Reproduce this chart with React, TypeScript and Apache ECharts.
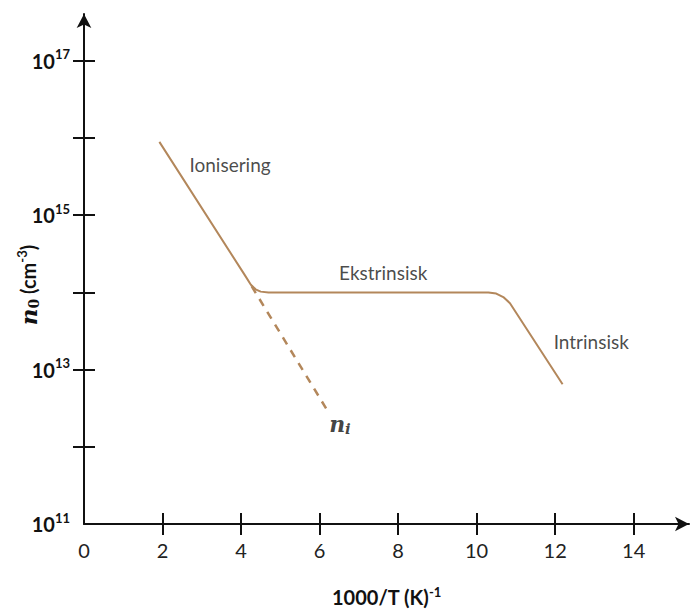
import React, { useEffect, useRef } from "react";
import * as echarts from "echarts";

// x = 1000/T (K^-1), y = log10(n0 / cm^-3)
const mainCurveX = [1.92, 4.1, 4.25, 4.37, 4.5, 4.7, 10.3, 10.5, 10.68, 10.85, 12.19];
const mainCurveY = [15.95, 14.22, 14.1, 14.04, 14.01, 14.0, 14.0, 13.985, 13.94, 13.86, 12.81];
const niX = [4.27, 6.2];
const niY = [14.08, 12.47];
const xTickValues = [2, 4, 6, 8, 10, 12, 14];
const xLabelValues = [0, 2, 4, 6, 8, 10, 12, 14];
const yTickValues = [12, 13, 14, 15, 16, 17];
const yLabelValues = [11, 13, 15, 17];
const annotationNames = ["Ionisering", "Ekstrinsisk", "Intrinsisk", "ni"];
const annotationX = [3.72, 7.62, 12.92, 6.52];
const annotationY = [15.66, 14.26, 13.36, 12.3];

const LINE_COLOR = "#b3875b";
const SANS = "Lato";

export default function App() {
  const ref = useRef<HTMLDivElement>(null);
  useEffect(() => {
    if (!ref.current) return;
    const chart = echarts.init(ref.current, undefined, { renderer: "svg" });
    const xMin = 0, xMax = 15.41, yMin = 11, yMax = 17.606;
    const axisLineStyle = { color: "#111", width: 2 };
    const annData = annotationNames.map((n, i) => ({ name: n, value: [annotationX[i], annotationY[i]] }));
    chart.setOption({
      animation: false,
      grid: { left: 84, right: 8, top: 14, bottom: 86, containLabel: false },
      xAxis: [
        {
          type: "value", min: xMin, max: xMax, position: "bottom", offset: 0,
          axisLine: { show: true, lineStyle: axisLineStyle, symbol: ["none", "arrow"], symbolSize: [11, 14] },
          axisTick: { show: true, length: 11, lineStyle: axisLineStyle, customValues: xTickValues },
          axisLabel: { customValues: xLabelValues, fontSize: 20, color: "#222", fontFamily: SANS, margin: 16 },
          splitLine: { show: false },
          name: "{t|1000/T (K)}{s|-1}",
          nameLocation: "middle",
          nameGap: 61,
          nameTextStyle: {
            rich: {
              t: { fontFamily: SANS, fontWeight: "bold", fontSize: 20, color: "#111", lineHeight: 24 },
              s: { fontFamily: SANS, fontWeight: "bold", fontSize: 13, color: "#111", verticalAlign: "top", lineHeight: 13 },
            },
          },
        },
        {
          type: "value", min: xMin, max: xMax, position: "bottom", offset: 0,
          axisLine: { show: false },
          axisTick: { show: true, inside: true, length: 11, lineStyle: axisLineStyle, customValues: xTickValues },
          axisLabel: { show: false },
          splitLine: { show: false },
        },
      ],
      yAxis: [
        {
          type: "value", min: yMin, max: yMax, position: "left", offset: 0,
          axisLine: { show: true, lineStyle: axisLineStyle, symbol: ["none", "arrow"], symbolSize: [11, 14] },
          axisTick: { show: true, length: 11, lineStyle: axisLineStyle, customValues: yTickValues },
          axisLabel: {
            customValues: yLabelValues,
            margin: 14,
            formatter: (v: number) => `{b|10}{s|${Math.round(v)}}`,
            rich: {
              b: { fontFamily: SANS, fontWeight: "bold", fontSize: 20, color: "#111", lineHeight: 26 },
              s: { fontFamily: SANS, fontWeight: "bold", fontSize: 13, color: "#111", verticalAlign: "top", lineHeight: 13 },
            },
          },
          splitLine: { show: false },
        },
        {
          type: "value", min: yMin, max: yMax, position: "left", offset: 0,
          axisLine: { show: false },
          axisTick: { show: true, inside: true, length: 11, lineStyle: axisLineStyle, customValues: yTickValues },
          axisLabel: { show: false },
          splitLine: { show: false },
        },
      ],
      graphic: [
        {
          type: "text",
          x: 28,
          y: 285,
          rotation: Math.PI / 2,
          style: {
            text: "{n|n}{sub|0}{t| (cm}{sup|-3}{t|)}",
            align: "center",
            verticalAlign: "middle",
            rich: {
              n: { fontFamily: "DejaVu Serif", fontStyle: "italic", fontWeight: "bold", fontSize: 23, fill: "#111", lineHeight: 26 },
              sub: { fontFamily: "DejaVu Serif", fontWeight: "bold", fontSize: 14, fill: "#111", verticalAlign: "bottom", lineHeight: 14 },
              t: { fontFamily: SANS, fontWeight: "bold", fontSize: 20, fill: "#111", lineHeight: 26 },
              sup: { fontFamily: SANS, fontWeight: "bold", fontSize: 13, fill: "#111", verticalAlign: "top", lineHeight: 13 },
            },
          },
        },
      ],
      series: [
        {
          type: "line",
          data: mainCurveX.map((x, i) => [x, mainCurveY[i]]),
          showSymbol: false,
          lineStyle: { color: LINE_COLOR, width: 2 },
          silent: true,
        },
        {
          type: "line",
          data: niX.map((x, i) => [x, niY[i]]),
          showSymbol: false,
          lineStyle: { color: LINE_COLOR, width: 2.5, type: [8, 7] },
          silent: true,
        },
        {
          type: "scatter",
          data: annData,
          symbolSize: 0,
          silent: true,
          label: {
            show: true,
            position: "inside",
            formatter: (p: any) => (p.name === "ni" ? "{n|n}{sub|i}" : `{a|${p.name}}`),
            rich: {
              a: { fontFamily: SANS, fontSize: 19, color: "#1a1a1a" },
              n: { fontFamily: "DejaVu Serif", fontStyle: "italic", fontWeight: "bold", fontSize: 22, color: "#111", lineHeight: 26 },
              sub: { fontFamily: "DejaVu Serif", fontStyle: "italic", fontWeight: "bold", fontSize: 15, color: "#111", verticalAlign: "bottom", lineHeight: 15 },
            },
          },
        },
      ],
    });
    return () => chart.dispose();
  }, []);
  return <div ref={ref} style={{ position: "absolute", left: 0, top: 0, width: 697, height: 612 }} />;
}
